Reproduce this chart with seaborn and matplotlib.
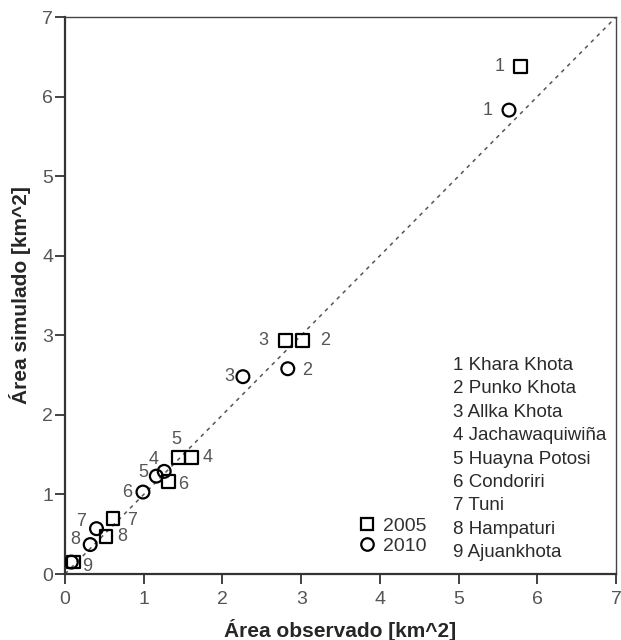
import numpy as np
import pandas as pd
import matplotlib
matplotlib.use("Agg")
import matplotlib.pyplot as plt
import seaborn as sns
from matplotlib.lines import Line2D

# data
ids = [1, 2, 3, 4, 5, 6, 7, 8, 9]
obs_2005 = [5.79, 3.02, 2.80, 1.61, 1.44, 1.31, 0.61, 0.52, 0.11]
sim_2005 = [6.38, 2.93, 2.93, 1.46, 1.46, 1.16, 0.70, 0.47, 0.15]
obs_2010 = [5.64, 2.83, 2.26, 1.26, 1.16, 0.99, 0.40, 0.32, 0.08]
sim_2010 = [5.83, 2.58, 2.48, 1.29, 1.23, 1.03, 0.57, 0.37, 0.15]
names = ["Khara Khota", "Punko Khota", "Allka Khota", "Jachawaquiwiña",
         "Huayna Potosi", "Condoriri", "Tuni", "Hampaturi", "Ajuankhota"]
ticks = [0, 1, 2, 3, 4, 5, 6, 7]

# label offsets (pixels) for the point numbers
off_2005 = [(-21, 0), (22, 0), (-22, 0), (16, 0), (-2, 18), (15, -3), (19, -2), (16, 0), (14, -4)]
off_2010 = [(-21, 0), (19, -2), (-14, 0), (-11, 12), (-13, 4), (-16, 0), (-15, 7), (-15, 5), None]

df = pd.DataFrame({
    "obs": obs_2005 + obs_2010,
    "sim": sim_2005 + sim_2010,
    "year": ["2005"] * 9 + ["2010"] * 9,
    "id": ids + ids,
})

sns.set_style("white")
plt.rcParams["font.family"] = ["Liberation Sans", "DejaVu Sans"]

fig = plt.figure(figsize=(6.21, 6.4), dpi=100)
ax = fig.add_axes([0.1047, 0.1031, 0.8873, 0.8703])

ax.plot([0, 7], [0, 7], color="#555555", lw=1.1, ls=(0, (2.5, 3)), zorder=1)

sns.scatterplot(data=df[df.year == "2005"], x="obs", y="sim", marker="s", s=85,
                facecolor="none", edgecolor="black", linewidth=1.6, ax=ax, zorder=3)
sns.scatterplot(data=df[df.year == "2010"], x="obs", y="sim", marker="o", s=85,
                facecolor="none", edgecolor="black", linewidth=1.6, ax=ax, zorder=3)

lab_col = "#555555"
for x, y, i, o in zip(obs_2005, sim_2005, ids, off_2005):
    ax.annotate(str(i), (x, y), xytext=(o[0] * 0.72, o[1] * 0.72), textcoords="offset points",
                ha="center", va="center", fontsize=13, color=lab_col)
for x, y, i, o in zip(obs_2010, sim_2010, ids, off_2010):
    if o is None:
        continue
    ax.annotate(str(i), (x, y), xytext=(o[0] * 0.72, o[1] * 0.72), textcoords="offset points",
                ha="center", va="center", fontsize=13, color=lab_col)

# list of glacier names
for k, (i, n) in enumerate(zip(ids, names)):
    ax.text(4.93, 2.62 - k * 0.294, f"{i} {n}", fontsize=13.5, color="#2a2a2a",
            ha="left", va="center")

handles = [
    Line2D([], [], marker="s", ls="none", mfc="none", mec="black", mew=1.6, ms=9),
    Line2D([], [], marker="o", ls="none", mfc="none", mec="black", mew=1.6, ms=9),
]
ax.legend(handles, ["2005", "2010"], loc="center left", bbox_to_anchor=(0.534, 0.068),
          frameon=False, fontsize=14, handletextpad=0.44, handlelength=0.8,
          labelspacing=0.15, borderpad=0, borderaxespad=0, labelcolor="#333333")

ax.set_xlim(0, 7)
ax.set_ylim(0, 7)
ax.set_xticks(ticks)
ax.set_yticks(ticks)
ax.tick_params(axis="both", direction="out", length=7, width=1.3, color="#333333",
               labelsize=14, labelcolor="#555555", left=True, bottom=True)
ax.tick_params(axis="x", pad=5)
ax.tick_params(axis="y", pad=1.5)
for side in ["left", "bottom"]:
    ax.spines[side].set_linewidth(1.6)
    ax.spines[side].set_color("#333333")
for side in ["top", "right"]:
    ax.spines[side].set_linewidth(1.0)
    ax.spines[side].set_color("#444444")

ax.set_xlabel("Área observado [km^2]", fontsize=15, fontweight="bold", labelpad=8)
ax.set_ylabel("Área simulado [km^2]", fontsize=15, fontweight="bold", labelpad=8)

fig.savefig("out.png", dpi=100)
